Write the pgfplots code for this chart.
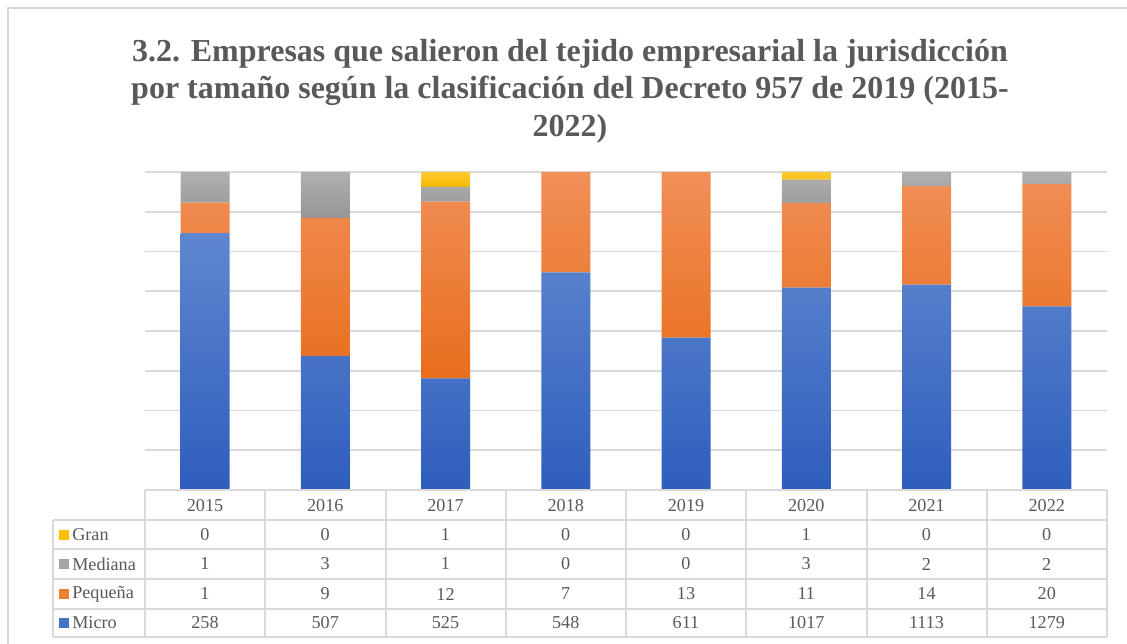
\documentclass[border=0pt]{standalone}
\usepackage{fontspec}
\setmainfont{Liberation Serif}
\usepackage{pgfplots}
\pgfplotsset{compat=1.18}
\definecolor{txt}{HTML}{595959}
\definecolor{gridc}{HTML}{D9D9D9}
\definecolor{blueT}{HTML}{5F87D0}
\definecolor{blueB}{HTML}{2E5DBC}
\definecolor{oraT}{HTML}{F18F58}
\definecolor{oraB}{HTML}{E86E1C}
\definecolor{grayT}{HTML}{B0B0B0}
\definecolor{grayB}{HTML}{959595}
\definecolor{golT}{HTML}{FFCA30}
\definecolor{golB}{HTML}{F5B800}
\definecolor{blueM}{HTML}{4472C4}
\definecolor{oraM}{HTML}{ED7D31}
\definecolor{grayM}{HTML}{A5A5A5}
\definecolor{golM}{HTML}{FFC000}
\begin{document}
\begin{tikzpicture}
\begin{axis}[name=ax, at={(0pt,0pt)}, anchor=south west, scale only axis,
  width=577.2pt, height=190.8pt,
  xmin=-0.5, xmax=7.5, ymin=96, ymax=100,
  ybar stacked, bar width=29.4pt,
  ytick={96,96.5,97,97.5,98,98.5,99,99.5,100},
  yticklabels={}, xtick=\empty,
  ymajorgrids, grid style={draw=gridc, line width=1.1pt},
  axis line style={draw=none}, major tick length=0pt]
\addplot[draw=none, top color=blueT, bottom color=blueB] coordinates
  {(0,99.2308) (1,97.6879) (2,97.4026) (3,98.7387) (4,97.9167) (5,98.5465) (6,98.5828) (7,98.3090)};
\addplot[draw=none, top color=oraT, bottom color=oraB] coordinates
  {(0,0.3846) (1,1.7341) (2,2.2263) (3,1.2613) (4,2.0833) (5,1.0659) (6,1.2400) (7,1.5373)};
\addplot[draw=none, top color=grayT, bottom color=grayB] coordinates
  {(0,0.3846) (1,0.5780) (2,0.1855) (3,0) (4,0) (5,0.2907) (6,0.1771) (7,0.1537)};
\addplot[draw=none, top color=golT, bottom color=golB] coordinates
  {(0,0) (1,0) (2,0.1855) (3,0) (4,0) (5,0.0969) (6,0) (7,0)};
\end{axis}
\pgfresetboundingbox
\begin{scope}[shift={(ax.south west)}, x=0.6pt, y=0.6pt]
\begin{scope}[shift={(-145,-154)}]
\path[use as bounding box] (0,0) rectangle (1127,644);
% outer frame
\draw[gridc, line width=1.2pt] (8,-20) -- (8,636) -- (1145,636);
% title
\node[align=center, text=txt, font=\bfseries\fontsize{19.2}{22.4}\selectfont] at (570,553)
  {3.2. Empresas que salieron del tejido empresarial la jurisdicción\\
   por tamaño según la clasificación del Decreto 957 de 2019 (2015-\\
   2022)};
% data table
\begin{scope}[gridc, line width=1.2pt]
\draw (145,154) -- (1107,154);
\foreach \yy in {124,95,65,35,7} \draw (53,\yy) -- (1107,\yy);
\draw (53,124) -- (53,7);
\foreach \k in {0,...,8} \draw ({145+120.25*\k},154) -- ({145+120.25*\k},7);
\end{scope}
\begin{scope}[text=txt, font=\fontsize{10.9}{12}\selectfont]
\foreach \yr [count=\i from 0] in {2015,2016,2017,2018,2019,2020,2021,2022}
  \node at ({205+120.25*\i},138) {\yr};
\foreach \v [count=\i from 0] in {0,0,1,0,0,1,0,0}
  \node at ({205+120.25*\i},109) {\v};
\foreach \v [count=\i from 0] in {1,3,1,0,0,3,2,2}
  \node at ({205+120.25*\i},80) {\v};
\foreach \v [count=\i from 0] in {1,9,12,7,13,11,14,20}
  \node at ({205+120.25*\i},50) {\v};
\foreach \v [count=\i from 0] in {258,507,525,548,611,1017,1113,1279}
  \node at ({205+120.25*\i},21) {\v};
\foreach \nm/\cc/\yy in {Gran/golM/109, Mediana/grayM/80, Pequeña/oraM/50, Micro/blueM/21}{
  \fill[\cc] (59,\yy-5) rectangle (69,\yy+5);
  \node[anchor=west, inner sep=0pt] at (72,\yy) {\nm};
}
\end{scope}
\end{scope}
\end{scope}
\end{tikzpicture}
\end{document}
